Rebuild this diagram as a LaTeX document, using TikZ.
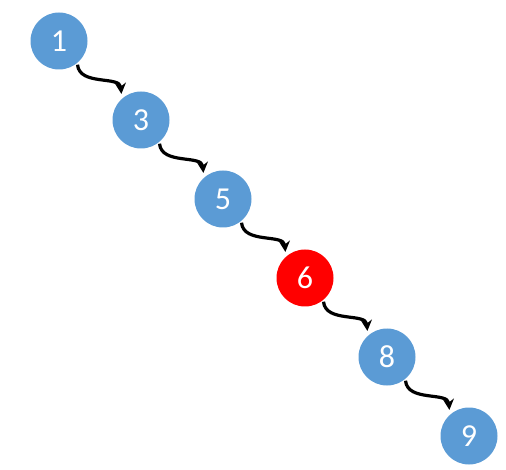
\documentclass[tikz,border=0pt]{standalone}
\usepackage{fontspec}
\setmainfont{Carlito}
\usetikzlibrary{arrows.meta,positioning}
\definecolor{nodeblue}{RGB}{91,155,213}

\begin{document}
\begin{tikzpicture}[
    x=1pt, y=-1pt,
    node/.style = {circle, fill=nodeblue, minimum size=57pt, inner sep=0pt,
                   text=white, font=\fontsize{32}{32}\selectfont},
    hot/.style = {node, fill=red},
    node distance=79pt and 82pt, on grid,
    >={Stealth[length=11pt,width=11pt]}, ->, line width=3.2pt
]
\useasboundingbox (0,0) rectangle (506,470);

% Chain
\node[node] (n1) at (59,41)          {1};
\node[node] (n3) [below right=of n1] {3};
\node[node] (n5) [below right=of n3] {5};
\node[hot]  (n6) [below right=of n5] {6};
\node[node] (n8) [below right=of n6] {8};
\node[node] (n9) [below right=of n8] {9};

% Edges
\draw[shorten >=3pt] (n1.-52) to[out=-85,in=95] (n3.130);
\draw[shorten >=3pt] (n3.-52) to[out=-85,in=95] (n5.130);
\draw[shorten >=3pt] (n5.-52) to[out=-85,in=95] (n6.130);
\draw[shorten >=3pt] (n6.-52) to[out=-85,in=95] (n8.130);
\draw[shorten >=3pt] (n8.-52) to[out=-85,in=95] (n9.130);

\end{tikzpicture}
\end{document}
